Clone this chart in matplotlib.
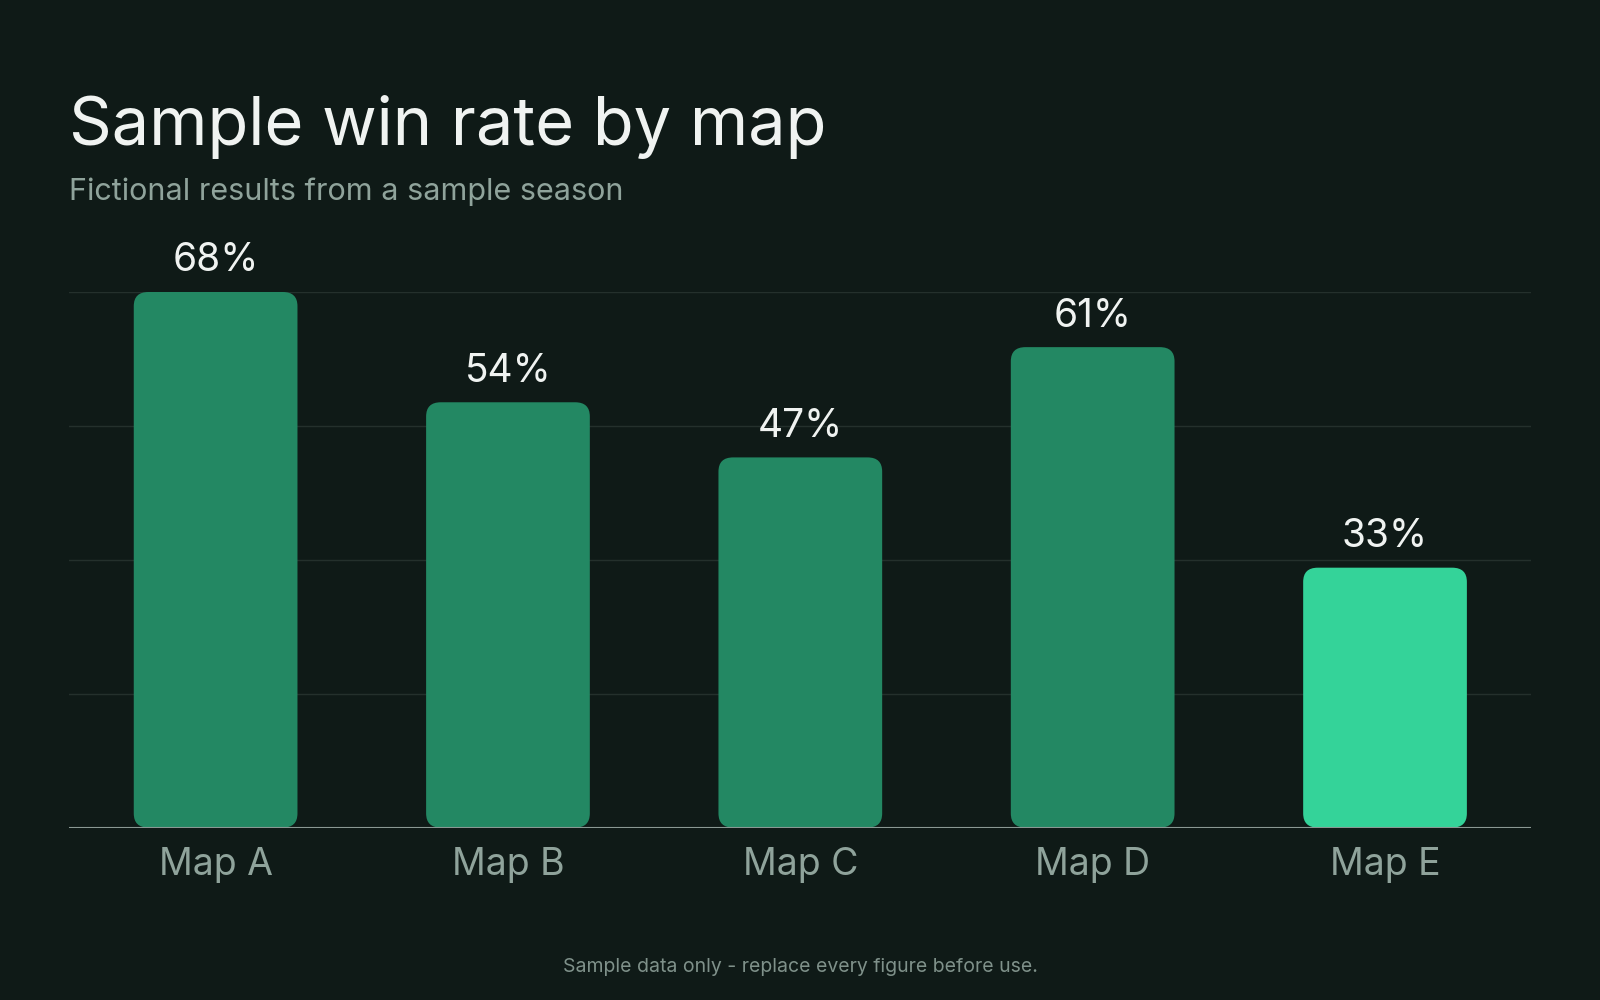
import matplotlib.pyplot as plt
from matplotlib.patches import FancyBboxPatch

maps = ["Map A", "Map B", "Map C", "Map D", "Map E"]
win_rate = [68, 54, 47, 61, 33]
highlight = "Map E"

bg = "#0f1a17"
plt.rcParams['font.family'] = ['Inter', 'DejaVu Sans']

fig = plt.figure(figsize=(16, 10), dpi=100, facecolor=bg)
ax = fig.add_axes([0.0434, 0.1724, 0.9136, 0.5356], facecolor=bg)
ax.set_xlim(-0.5, len(maps) - 0.5)
ax.set_ylim(0, 68)

for g in [17, 34, 51, 68]:
    ax.axhline(g, color="#24302c", lw=1, zorder=0)
ax.axhline(0, color="#8a9893", lw=1.5, zorder=3)

w = 0.56
for i, (m, v) in enumerate(zip(maps, win_rate)):
    c = "#34d399" if m == highlight else "#238863"
    p = FancyBboxPatch((i - w / 2, 0), w, v,
                       boxstyle="round,pad=0,rounding_size=0.05",
                       mutation_aspect=36, fc=c, ec="none", zorder=2)
    ax.add_patch(p)
    ax.text(i, v + 1.6, f"{v}%", ha="center", va="bottom",
            fontsize=28, color="#f0f3f1")

ax.set_xticks(range(len(maps)))
ax.set_xticklabels(maps, fontsize=27, color="#8fa39b")
ax.tick_params(axis="x", length=0, pad=14)
ax.set_yticks([])
for s in ax.spines.values():
    s.set_visible(False)

fig.text(0.0434, 0.855, "Sample win rate by map", fontsize=48, color="#f0f3f1", va="baseline")
fig.text(0.0434, 0.80, "Fictional results from a sample season", fontsize=22, color="#8fa39b", va="baseline")
fig.text(0.5, 0.028, "Sample data only - replace every figure before use.", fontsize=14,
         color="#7f918a", ha="center", va="baseline")

fig.savefig("out.png", facecolor=bg)
